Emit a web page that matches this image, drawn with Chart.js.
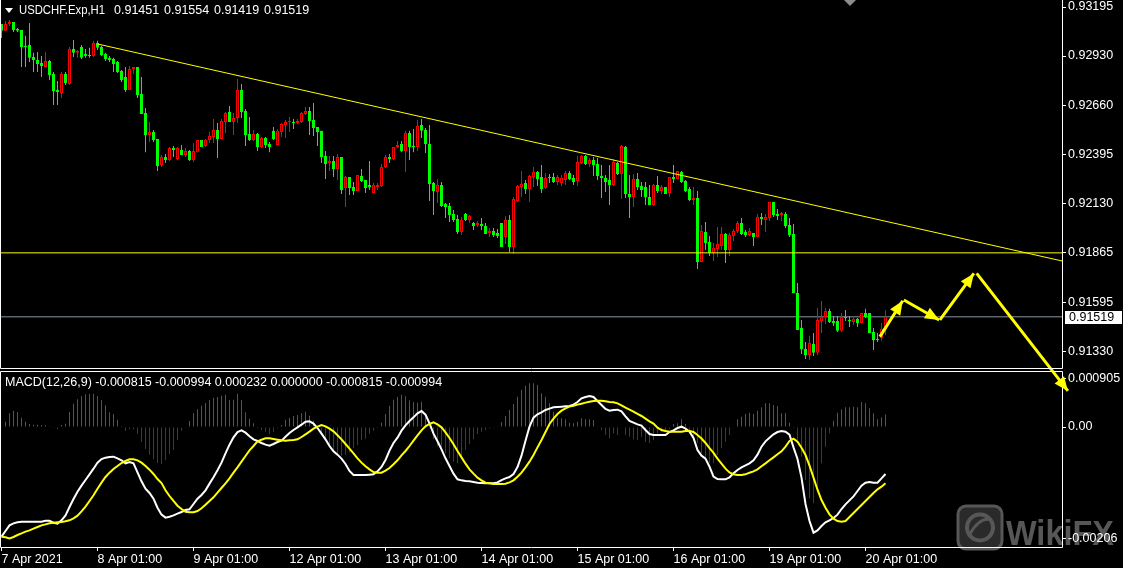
<!DOCTYPE html>
<html>
<head>
<meta charset="utf-8">
<script src="https://cdn.jsdelivr.net/npm/chart.js@4.4.0/dist/chart.umd.min.js"></script>
<style>
  html, body { margin: 0; padding: 0; background: #000; }
</style>
</head>
<body>
<canvas id="grafico" width="1123" height="568"></canvas>
<script>
// USDCHF.Exp H1, 7 Apr 01:00 .. 20 Apr 06:00 (one value per hourly bar)
const opens = [
  .93103, .93066, .93103, .93114, .93076, .93071, .92985, .92990, .92925, .92909,
  .92893, .92871, .92903, .92832, .92746, .92730, .92832, .92778, .92968, .92947,
  .92979, .92941, .92936, .92930, .93001, .92979, .92941, .92920, .92914, .92898,
  .92849, .92816, .92746, .92860, .92871, .92724, .92622, .92503, .92519, .92481,
  .92340, .92384, .92367, .92432, .92373, .92421, .92394, .92416, .92367, .92410,
  .92476, .92443, .92476, .92492, .92530, .92481, .92573, .92627, .92573, .92595,
  .92746, .92633, .92508, .92476, .92508, .92438, .92487, .92454, .92525, .92448,
  .92519, .92557, .92573, .92573, .92568, .92573, .92616, .92633, .92584, .92546,
  .92525, .92389, .92351, .92362, .92319, .92384, .92216, .92275, .92221, .92200,
  .92281, .92259, .92232, .92189, .92221, .92227, .92329, .92384, .92373, .92438,
  .92454, .92416, .92514, .92443, .92438, .92557, .92530, .92454, .92243, .92194,
  .92232, .92129, .92119, .92075, .92048, .91978, .92075, .92043, .92027, .92016,
  .92021, .92010, .91973, .91983, .91973, .92027, .91951, .92043, .91897, .92146,
  .92221, .92243, .92210, .92275, .92302, .92275, .92216, .92275, .92275, .92248,
  .92243, .92259, .92297, .92270, .92254, .92351, .92389, .92346, .92367, .92346,
  .92281, .92270, .92259, .92232, .92351, .92292, .92438, .92183, .92167, .92265,
  .92227, .92221, .92167, .92124, .92232, .92200, .92221, .92189, .92275, .92265,
  .92302, .92254, .92210, .92151, .92162, .91816, .91978, .91924, .91864, .91886,
  .91902, .91967, .91881, .91956, .91983, .92027, .91978, .91962, .91973, .91951,
  .92059, .92043, .92054, .92140, .92075, .92070, .92075, .92016, .91967, .91648,
  .91459, .91345, .91313, .91372, .91324, .91497, .91518, .91551, .91497, .91497,
  .91443, .91518, .91502, .91491, .91508, .91486, .91540, .91540, .91437, .91399,
  .91405, .91451
];
const highs = [
  .93103, .93120, .93125, .93114, .93082, .93071, .93039, .93109, .92947, .92952,
  .92930, .92952, .92909, .92843, .92795, .92843, .92843, .92979, .93017, .92963,
  .92990, .92968, .92974, .93012, .93012, .92985, .92947, .92930, .92920, .92903,
  .92854, .92871, .92876, .92871, .92871, .92816, .92649, .92573, .92530, .92481,
  .92394, .92400, .92438, .92443, .92438, .92448, .92432, .92421, .92459, .92476,
  .92476, .92481, .92519, .92589, .92568, .92589, .92627, .92660, .92622, .92806,
  .92778, .92643, .92600, .92530, .92514, .92492, .92492, .92465, .92546, .92535,
  .92568, .92584, .92600, .92589, .92589, .92627, .92654, .92654, .92676, .92546,
  .92525, .92416, .92389, .92389, .92400, .92384, .92281, .92275, .92248, .92286,
  .92319, .92259, .92362, .92243, .92243, .92346, .92394, .92400, .92438, .92470,
  .92470, .92525, .92525, .92535, .92584, .92589, .92541, .92557, .92248, .92265,
  .92248, .92135, .92135, .92097, .92070, .92059, .92081, .92070, .92032, .92037,
  .92054, .92027, .92000, .92000, .91994, .92027, .92064, .92070, .92167, .92232,
  .92308, .92259, .92286, .92329, .92308, .92340, .92297, .92292, .92297, .92286,
  .92286, .92308, .92308, .92286, .92389, .92394, .92394, .92378, .92384, .92378,
  .92340, .92286, .92340, .92373, .92356, .92448, .92443, .92286, .92292, .92297,
  .92248, .92248, .92232, .92237, .92281, .92232, .92221, .92275, .92340, .92308,
  .92308, .92259, .92221, .92221, .92200, .92016, .92032, .91956, .91918, .92005,
  .92005, .91973, .91973, .91994, .92037, .92054, .91989, .92000, .91973, .92075,
  .92081, .92075, .92140, .92140, .92102, .92086, .92086, .92054, .92021, .91702,
  .91502, .91383, .91416, .91432, .91567, .91605, .91567, .91562, .91524, .91524,
  .91540, .91556, .91524, .91524, .91513, .91540, .91562, .91540, .91459, .91432,
  .91486, .91554
];
const lows = [
  .93028, .93066, .93093, .93060, .93060, .92871, .92871, .92898, .92843, .92843,
  .92816, .92871, .92800, .92665, .92665, .92703, .92773, .92773, .92925, .92920,
  .92914, .92920, .92920, .92925, .92963, .92930, .92903, .92898, .92843, .92838,
  .92789, .92735, .92746, .92832, .92703, .92616, .92410, .92465, .92465, .92308,
  .92329, .92351, .92362, .92384, .92367, .92394, .92384, .92362, .92356, .92410,
  .92438, .92438, .92459, .92459, .92378, .92481, .92514, .92573, .92503, .92568,
  .92595, .92443, .92470, .92470, .92416, .92432, .92432, .92410, .92476, .92448,
  .92492, .92487, .92519, .92535, .92562, .92568, .92611, .92503, .92497, .92443,
  .92351, .92265, .92308, .92275, .92259, .92183, .92113, .92178, .92178, .92200,
  .92248, .92189, .92205, .92189, .92205, .92221, .92324, .92351, .92367, .92432,
  .92410, .92302, .92367, .92410, .92416, .92487, .92405, .92146, .92070, .92135,
  .92113, .92054, .92032, .92032, .91967, .91962, .92037, .92027, .91989, .92005,
  .91989, .91967, .91951, .91951, .91946, .91897, .91913, .91870, .91859, .92140,
  .92167, .92183, .92140, .92221, .92227, .92189, .92210, .92243, .92243, .92232,
  .92227, .92232, .92259, .92232, .92227, .92346, .92340, .92329, .92281, .92259,
  .92162, .92194, .92124, .92227, .92286, .92156, .92162, .92054, .92113, .92205,
  .92167, .92124, .92124, .92119, .92189, .92183, .92183, .92167, .92243, .92265,
  .92243, .92194, .92146, .92124, .91778, .91816, .91881, .91848, .91821, .91843,
  .91881, .91810, .91848, .91929, .91973, .91962, .91951, .91956, .91902, .91951,
  .92016, .91978, .92037, .92059, .92043, .92037, .92000, .91951, .91648, .91448,
  .91318, .91291, .91286, .91307, .91313, .91432, .91480, .91486, .91470, .91437,
  .91437, .91497, .91464, .91475, .91464, .91486, .91513, .91432, .91340, .91383,
  .91389, .91419
];
const closes = [
  .93066, .93103, .93114, .93071, .93066, .92979, .92979, .92920, .92909, .92887,
  .92876, .92903, .92827, .92741, .92735, .92832, .92784, .92968, .92947, .92958,
  .92920, .92930, .92930, .93001, .92974, .92936, .92914, .92909, .92887, .92843,
  .92800, .92746, .92860, .92871, .92719, .92616, .92503, .92519, .92476, .92335,
  .92384, .92367, .92432, .92421, .92432, .92394, .92416, .92367, .92416, .92476,
  .92438, .92476, .92497, .92530, .92481, .92579, .92622, .92573, .92595, .92746,
  .92627, .92503, .92476, .92508, .92438, .92487, .92448, .92438, .92481, .92525,
  .92562, .92573, .92579, .92568, .92579, .92622, .92633, .92579, .92541, .92519,
  .92384, .92346, .92362, .92319, .92384, .92205, .92275, .92216, .92200, .92286,
  .92254, .92216, .92221, .92232, .92232, .92329, .92384, .92373, .92438, .92448,
  .92416, .92514, .92438, .92438, .92552, .92525, .92454, .92237, .92200, .92232,
  .92119, .92113, .92070, .92043, .91978, .92043, .92043, .92064, .92010, .92027,
  .92010, .91967, .91983, .91962, .91956, .91897, .92043, .91897, .92156, .92227,
  .92237, .92210, .92281, .92302, .92265, .92210, .92270, .92270, .92248, .92275,
  .92270, .92297, .92265, .92248, .92356, .92389, .92346, .92367, .92340, .92281,
  .92270, .92248, .92232, .92356, .92292, .92443, .92183, .92167, .92265, .92221,
  .92205, .92167, .92124, .92232, .92200, .92221, .92183, .92275, .92265, .92308,
  .92248, .92200, .92151, .92162, .91816, .91983, .91918, .91864, .91892, .91913,
  .91967, .91881, .91962, .91983, .92027, .91967, .91962, .91983, .91951, .92059,
  .92048, .92059, .92140, .92070, .92064, .92081, .92010, .91962, .91648, .91448,
  .91345, .91313, .91378, .91324, .91502, .91518, .91551, .91491, .91486, .91443,
  .91518, .91513, .91497, .91508, .91486, .91540, .91518, .91432, .91394, .91394,
  .91454, .91519
];

// MACD(12,26,9) sub-window
const macdLine = [
  -0.002031, -0.001926, -0.001821, -0.001784, -0.001765, -0.001753, -0.001753, -0.001753, -0.001753, -0.001753,
  -0.001753, -0.001735, -0.001735, -0.001772, -0.00179, -0.001728, -0.001636, -0.001482, -0.001333, -0.001198,
  -0.001086, -0.000982, -0.000877, -0.000772, -0.00066, -0.000593, -0.000568, -0.000556, -0.000549, -0.00058,
  -0.000617, -0.000673, -0.000648, -0.000673, -0.00084, -0.001006, -0.001142, -0.001222, -0.001327, -0.001494,
  -0.001623, -0.001679, -0.001661, -0.001636, -0.001605, -0.001574, -0.001537, -0.001525, -0.001426, -0.001327,
  -0.001259, -0.001173, -0.001049, -0.000932, -0.000802, -0.00066, -0.000488, -0.000327, -0.000191, -0.000093,
  -0.000062, -0.000105, -0.000173, -0.000228, -0.000259, -0.000296, -0.000327, -0.000346, -0.000315, -0.000278,
  -0.000253, -0.000179, -0.000111, -0.000056, -0.000006, 0.000043, 0.000099, 0.000105, 0.000062, -0.000019,
  -0.000123, -0.000228, -0.000352, -0.000451, -0.000512, -0.000586, -0.000685, -0.000815, -0.000889, -0.000889,
  -0.000889, -0.000889, -0.000883, -0.000877, -0.000821, -0.000741, -0.000611, -0.000438, -0.000296, -0.000198,
  -0.000068, 0.000031, 0.000111, 0.000179, 0.000253, 0.000296, 0.000228, 0.000068, -0.000123, -0.000265,
  -0.000414, -0.00058, -0.000722, -0.000864, -0.000969, -0.000988, -0.001, -0.001006, -0.001019, -0.001031,
  -0.001037, -0.001043, -0.001043, -0.001043, -0.001025, -0.000982, -0.000951, -0.000926, -0.00087, -0.000741,
  -0.000531, -0.000253, 0.000006, 0.000173, 0.000235, 0.000272, 0.000315, 0.00034, 0.000364, 0.00037,
  0.000377, 0.000383, 0.000389, 0.000414, 0.000463, 0.000531, 0.000556, 0.000574, 0.000556, 0.000481,
  0.000407, 0.000333, 0.000302, 0.000315, 0.000321, 0.00029, 0.000198, 0.000111, 0.00008, 0.000049,
  0.000025, -0.000056, -0.00013, -0.000148, -0.000148, -0.000148, -0.000148, -0.000093, -0.000062, -0.000019,
  0.000006, -0.000031, -0.000086, -0.000204, -0.000426, -0.000531, -0.000586, -0.000735, -0.00092, -0.000963,
  -0.000969, -0.000969, -0.000932, -0.000858, -0.000796, -0.000747, -0.00071, -0.000673, -0.000617, -0.000512,
  -0.000364, -0.000265, -0.000198, -0.000136, -0.000093, -0.000074, -0.000086, -0.000142, -0.000377, -0.000593,
  -0.000938, -0.001426, -0.001741, -0.001957, -0.001914, -0.001833, -0.001765, -0.001728, -0.001685, -0.001623,
  -0.001519, -0.001432, -0.001358, -0.001284, -0.001185, -0.001086, -0.001031, -0.001019, -0.001031, -0.001031,
  -0.000951, -0.00087
];
const signalLine = [
  -0.002031, -0.002043, -0.002062, -0.002037, -0.002, -0.001969, -0.001938, -0.001914, -0.001883, -0.001852,
  -0.001821, -0.001803, -0.001784, -0.001772, -0.001765, -0.001759, -0.001747, -0.001728, -0.001691, -0.001642,
  -0.001562, -0.001475, -0.00137, -0.001265, -0.001142, -0.001031, -0.000926, -0.000846, -0.000778, -0.000722,
  -0.000667, -0.00063, -0.000599, -0.000599, -0.000617, -0.00066, -0.000722, -0.00079, -0.00087, -0.000963,
  -0.001037, -0.001173, -0.001278, -0.00137, -0.001457, -0.001519, -0.001568, -0.00158, -0.00158, -0.001556,
  -0.001506, -0.001438, -0.00137, -0.001303, -0.001216, -0.00113, -0.001043, -0.000951, -0.000846, -0.000747,
  -0.000642, -0.000537, -0.000432, -0.000352, -0.000265, -0.000235, -0.00021, -0.00021, -0.000222, -0.000235,
  -0.000247, -0.000253, -0.000247, -0.000241, -0.000228, -0.000185, -0.000136, -0.000086, -0.000031, 0.000006,
  0.000037, 0.000012, -0.000031, -0.00008, -0.000154, -0.000228, -0.000315, -0.000401, -0.000488, -0.00058,
  -0.00066, -0.000728, -0.000784, -0.000833, -0.000846, -0.000846, -0.000809, -0.000759, -0.000691, -0.000617,
  -0.000525, -0.000444, -0.000352, -0.000253, -0.000154, -0.000062, 0.000012, 0.000056, 0.000086, 0.000049,
  -0.000006, -0.000099, -0.000204, -0.000321, -0.000444, -0.000562, -0.000679, -0.000784, -0.000864, -0.000938,
  -0.000988, -0.001031, -0.001043, -0.001056, -0.001056, -0.001056, -0.001049, -0.001025, -0.000988, -0.00092,
  -0.000846, -0.000747, -0.000642, -0.000519, -0.000377, -0.000241, -0.000093, 0.000056, 0.000154, 0.000241,
  0.000302, 0.000346, 0.000377, 0.000395, 0.000414, 0.000432, 0.000451, 0.000469, 0.000481, 0.000488,
  0.000488, 0.000475, 0.000463, 0.000457, 0.000438, 0.000401, 0.000358, 0.000321, 0.000284, 0.000241,
  0.000204, 0.000154, 0.000105, 0.000062, -0.000012, -0.000056, -0.000074, -0.000086, -0.000086, -0.000086,
  -0.000086, -0.000074, -0.000074, -0.000093, -0.000148, -0.000213, -0.000296, -0.000389, -0.000481, -0.000586,
  -0.000679, -0.000772, -0.00084, -0.000877, -0.000889, -0.000889, -0.000877, -0.000846, -0.000821, -0.000784,
  -0.000728, -0.000673, -0.000617, -0.000562, -0.000506, -0.000451, -0.000364, -0.000259, -0.000216, -0.000272,
  -0.000383, -0.000519, -0.000716, -0.000938, -0.001161, -0.001352, -0.001494, -0.001617, -0.001698, -0.001741,
  -0.001753, -0.001741, -0.001667, -0.001593, -0.001519, -0.001444, -0.00137, -0.001296, -0.001222, -0.001154,
  -0.001105, -0.00104
];
const histogram = [
  0.000006, 0.000099, 0.000253, 0.000302, 0.000278, 0.000173, 0.000099, 0.000056, 0.000043, 0.000043,
  0.000037, 0.000031, 0.000012, -0.000012, -0.000037, 0.000037, 0.000062, 0.000278, 0.000432, 0.000512,
  0.000574, 0.000605, 0.000617, 0.000617, 0.000574, 0.0005, 0.000401, 0.000272, 0.000241, 0.000136,
  0.000019, -0.000074, -0.000043, -0.000043, -0.00013, -0.000272, -0.000407, -0.000512, -0.000599, -0.000667,
  -0.000685, -0.000611, -0.000506, -0.000426, -0.000241, -0.000068, -0.000006, 0.000111, 0.000253, 0.000327,
  0.000395, 0.000444, 0.0005, 0.000543, 0.000556, 0.00058, 0.000599, 0.0005, 0.000506, 0.000617,
  0.0005, 0.000272, 0.000154, 0.000068, -0.000025, -0.000056, -0.000086, -0.000136, -0.000093, -0.000025,
  0.000037, 0.000136, 0.000167, 0.000204, 0.000222, 0.000253, 0.000284, 0.00021, 0.000117, -0.000006,
  -0.00013, -0.000253, -0.000358, -0.000451, -0.000506, -0.000531, -0.000512, -0.000469, -0.000389, -0.000333,
  -0.000241, -0.000216, -0.00013, -0.000068, -0.000019, 0.00008, 0.000241, 0.000395, 0.000506, 0.000556,
  0.000599, 0.000568, 0.000494, 0.000463, 0.000451, 0.000469, 0.000247, -0.000025, -0.000228, -0.000358,
  -0.000432, -0.000488, -0.00058, -0.000642, -0.000667, -0.000531, -0.000426, -0.000315, -0.000228, -0.00013,
  -0.000086, -0.000056, -0.000025, -0.000006, 0.000006, 0.000093, 0.000204, 0.000315, 0.000426, 0.000562,
  0.000691, 0.000765, 0.000809, 0.000809, 0.000778, 0.000623, 0.000562, 0.000438, 0.000284, 0.00016,
  0.00016, 0.000142, 0.00008, 0.000068, 0.000099, 0.00016, 0.000142, 0.000142, 0.00013, 0.000006,
  -0.000056, -0.000148, -0.00021, -0.000117, -0.000148, -0.000006, -0.000148, -0.000179, -0.000228, -0.000241,
  -0.000179, -0.000272, -0.000296, -0.000241, -0.000117, -0.000086, -0.000056, -0.000043, 0.000056, 0.000068,
  0.000142, 0.000056, -0.000086, -0.000179, -0.000302, -0.000488, -0.00058, -0.00066, -0.000673, -0.000519,
  -0.000395, -0.000272, -0.000148, -0.000006, 0.000142, 0.000191, 0.000241, 0.000265, 0.000241, 0.000302,
  0.000364, 0.000438, 0.000438, 0.000407, 0.000389, 0.000253, 0.000259, 0.00008, -0.000025, -0.000241,
  -0.000549, -0.000982, -0.001321, -0.001414, -0.001198, -0.000673, -0.000364, -0.000117, 0.000117, 0.000265,
  0.000327, 0.000364, 0.000364, 0.000377, 0.000364, 0.000463, 0.000438, 0.000346, 0.000253, 0.000142,
  0.000179, 0.000232
];
const macdTitleValues = ['-0.000815', '-0.000994', '0.000232', '0.000000', '-0.000815', '-0.000994'];

// axis ticks
const xTickBars = [0, 24, 48, 72, 96, 120, 144, 168, 192, 216];
const xTickLabels = ['7 Apr 2021', '8 Apr 01:00', '9 Apr 01:00', '12 Apr 01:00', '13 Apr 01:00',
  '14 Apr 01:00', '15 Apr 01:00', '16 Apr 01:00', '19 Apr 01:00', '20 Apr 01:00'];
const priceTicks = [0.93195, 0.92930, 0.92660, 0.92395, 0.92130, 0.91865, 0.91595, 0.91330];
const macdTicks = [0.000905, 0, -0.00206];
const macdTickLabels = ['0.000905', '0.00', '-0.00206'];

// drawn objects: trend line (bar index, price), support level, forecast arrows
const trendBars = [24, 266];
const trendPrices = [0.92995, 0.91817];
const supportLevel = 0.91865;
const arrowFromBar = [219.6, 225.6, 234.6, 243.8];
const arrowFromPrice = [0.91412, 0.91610, 0.91502, 0.91754];
const arrowToBar = [225.3, 234.4, 243.1, 266.6];
const arrowToPrice = [0.91606, 0.91502, 0.91754, 0.91118];

// colores
const upColor = '#ff0000';
const downColor = '#00ff00';
const histUp = '#dc143c';
const histDown = '#006400';
const yellow = '#ffff00';
const fontFamily = "'Liberation Sans', Arial, sans-serif";
const tickFont = { family: fontFamily, size: 12.5 };

const bars = opens.map((o, i) => i);
const candleUp = closes.map((c, i) => c > opens[i]);
const lastBar = bars.length - 1;

const arrowData = [];
arrowFromBar.forEach((b, k) => {
  arrowData.push({ x: b, y: arrowFromPrice[k] });
  arrowData.push({ x: arrowToBar[k], y: arrowToPrice[k] });
  arrowData.push({ x: arrowToBar[k], y: null });
});

// texto ajustado a un ancho fijo (el terminal usa una fuente más estrecha)
function fitText(ctx, text, x, y, width) {
  const w = ctx.measureText(text).width;
  ctx.save();
  ctx.translate(x, y);
  ctx.scale(Math.min(1, width / w), 1);
  ctx.fillText(text, 0, 0);
  ctx.restore();
}

function drawWatermark(ctx, a) {
  const x0 = a.right - 104, y0 = a.bottom - 41;
  ctx.save();
  ctx.beginPath();
  ctx.roundRect(x0, y0, 44, 43, 8);
  ctx.fillStyle = '#2a2a2a';
  ctx.fill();
  ctx.lineWidth = 3;
  ctx.strokeStyle = '#575757';
  ctx.stroke();
  ctx.beginPath();
  ctx.arc(x0 + 22, y0 + 21.5, 13, 0, Math.PI * 2);
  ctx.lineWidth = 4;
  ctx.stroke();
  ctx.beginPath();
  ctx.moveTo(x0 + 12, y0 + 28);
  ctx.quadraticCurveTo(x0 + 22, y0 + 10, x0 + 34, y0 + 14);
  ctx.lineWidth = 3;
  ctx.stroke();
  ctx.fillStyle = '#575757';
  ctx.font = "bold 35px " + fontFamily;
  ctx.textBaseline = 'alphabetic';
  fitText(ctx, 'WikiFX', x0 + 48, a.bottom - 2, 108);
  ctx.restore();
}

const overlay = {
  id: 'overlay',
  beforeDraw(chart) {
    const { ctx, chartArea: a } = chart;
    ctx.save();
    ctx.fillStyle = '#000';
    ctx.fillRect(0, 0, chart.width, chart.height);
    ctx.restore();
    drawWatermark(ctx, a);
  },
  afterDraw(chart) {
    const { ctx, chartArea: a } = chart;
    const sy = chart.scales.y, sm = chart.scales.m;
    ctx.save();

    // marcos de las ventanas
    ctx.strokeStyle = '#ffffff';
    ctx.lineWidth = 1;
    const mainBottom = sy.bottom - 1.5, subTop = sm.top + 1.5;
    ctx.beginPath();
    ctx.moveTo(a.left + 0.5, a.top); ctx.lineTo(a.left + 0.5, mainBottom);
    ctx.lineTo(a.right + 0.5, mainBottom); ctx.lineTo(a.right + 0.5, a.top);
    ctx.moveTo(a.left + 0.5, subTop); ctx.lineTo(a.right + 0.5, subTop);
    ctx.lineTo(a.right + 0.5, a.bottom + 0.5); ctx.lineTo(a.left + 0.5, a.bottom + 0.5);
    ctx.closePath();
    ctx.stroke();

    // puntas de flecha
    const meta = chart.getDatasetMeta(chart.data.datasets.findIndex(d => d.label === 'arrows'));
    ctx.fillStyle = yellow;
    for (let k = 0; k < arrowFromBar.length; k++) {
      const p0 = meta.data[k * 3], p1 = meta.data[k * 3 + 1];
      const dx = p1.x - p0.x, dy = p1.y - p0.y, len = Math.hypot(dx, dy);
      const ux = dx / len, uy = dy / len, L = 14, W = 6;
      ctx.beginPath();
      ctx.moveTo(p1.x, p1.y);
      ctx.lineTo(p1.x - L * ux - W * uy, p1.y - L * uy + W * ux);
      ctx.lineTo(p1.x - L * ux + W * uy, p1.y - L * uy - W * ux);
      ctx.closePath();
      ctx.fill();
    }

    // marcador de desplazamiento
    ctx.fillStyle = '#8c8c8c';
    ctx.beginPath();
    ctx.moveTo(a.right - 218, 0); ctx.lineTo(a.right - 206, 0); ctx.lineTo(a.right - 212, 6);
    ctx.closePath();
    ctx.fill();

    // etiqueta del precio actual
    const yb = Math.round(sy.getPixelForValue(closes[lastBar]));
    ctx.fillStyle = '#ffffff';
    ctx.fillRect(a.right + 3, yb - 6, 57, 13);
    ctx.fillStyle = '#000000';
    ctx.font = '12.5px ' + fontFamily;
    ctx.textBaseline = 'middle';
    ctx.fillText(closes[lastBar].toFixed(5), a.right + 7, yb + 0.5);

    // títulos
    ctx.fillStyle = '#ffffff';
    ctx.beginPath();
    ctx.moveTo(a.left + 5, a.top + 8); ctx.lineTo(a.left + 13, a.top + 8); ctx.lineTo(a.left + 9, a.top + 13);
    ctx.closePath();
    ctx.fill();
    const ohlc = [opens[lastBar], highs[lastBar], lows[lastBar], closes[lastBar]];
    fitText(ctx, 'USDCHF.Exp,H1', a.left + 19, a.top + 11, 86);
    ohlc.forEach((v, k) => ctx.fillText(v.toFixed(5), a.left + 114 + k * 50, a.top + 11));
    ctx.fillText('MACD(12,26,9) ' + macdTitleValues.join(' '), a.left + 5, sm.top + 13);
    ctx.restore();
  }
};

const ctx = document.getElementById('grafico').getContext('2d');
const myChart = new Chart(ctx, {
  type: 'bar',
  data: {
    datasets: [
      {
        type: 'line', label: 'bid', yAxisID: 'y',
        data: [{ x: -1, y: closes[lastBar] }, { x: 267, y: closes[lastBar] }],
        borderColor: '#8a94a6', borderWidth: 1, pointRadius: 0, order: 12
      },
      {
        type: 'bar', label: 'hist', yAxisID: 'm',
        data: bars.map(i => ({ x: i, y: histogram[i] })),
        backgroundColor: histogram.map(v => v >= 0 ? histUp : histDown),
        barThickness: 1, grouped: false, borderWidth: 0, inflateAmount: 0, order: 11
      },
      {
        type: 'line', label: 'macd', yAxisID: 'm',
        data: bars.map(i => ({ x: i, y: macdLine[i] })),
        borderColor: '#ffffff', borderWidth: 2, pointRadius: 0, tension: 0, order: 10
      },
      {
        type: 'line', label: 'signal', yAxisID: 'm',
        data: bars.map(i => ({ x: i, y: signalLine[i] })),
        borderColor: yellow, borderWidth: 2, pointRadius: 0, tension: 0, order: 9
      },
      {
        type: 'bar', label: 'wicks', yAxisID: 'y',
        data: bars.map(i => ({ x: i, y: [lows[i], highs[i]] })),
        backgroundColor: candleUp.map(u => u ? upColor : downColor),
        barThickness: 1, grouped: false, borderWidth: 0, inflateAmount: 0, order: 8
      },
      {
        type: 'bar', label: 'bodies', yAxisID: 'y',
        data: bars.map(i => ({ x: i, y: [opens[i], closes[i]] })),
        backgroundColor: candleUp.map(u => u ? '#000000' : downColor),
        borderColor: candleUp.map(u => u ? upColor : downColor),
        borderWidth: 1, borderSkipped: false, barThickness: 3, minBarLength: 1,
        grouped: false, inflateAmount: 0, order: 7
      },
      {
        type: 'line', label: 'support', yAxisID: 'y',
        data: [{ x: -1, y: supportLevel }, { x: 267, y: supportLevel }],
        borderColor: yellow, borderWidth: 1, pointRadius: 0, order: 4
      },
      {
        type: 'line', label: 'trend', yAxisID: 'y',
        data: trendBars.map((b, k) => ({ x: b, y: trendPrices[k] })),
        borderColor: yellow, borderWidth: 1, pointRadius: 0, order: 3
      },
      {
        type: 'line', label: 'arrows', yAxisID: 'y',
        data: arrowData, spanGaps: false, clip: false,
        borderColor: yellow, borderWidth: 3, pointRadius: 0, order: 1
      }
    ]
  },
  options: {
    responsive: false,
    animation: false,
    events: [],
    layout: { padding: 0 },
    plugins: { legend: { display: false }, tooltip: { enabled: false } },
    scales: {
      x: {
        type: 'linear', axis: 'x', position: 'bottom', min: -0.375, max: 265.125, offset: false,
        afterBuildTicks: s => { s.ticks = xTickBars.map(v => ({ value: v })); },
        afterFit: s => { s.height = 21; s.paddingLeft = 0; s.paddingRight = 0; },
        ticks: {
          color: '#ffffff', font: tickFont, align: 'start', maxRotation: 0, autoSkip: false, padding: 1,
          callback: (v, i) => xTickLabels[i]
        },
        grid: { display: true, drawOnChartArea: false, drawTicks: true, tickLength: 4, color: '#ffffff', offset: false },
        border: { display: false }
      },
      y: {
        type: 'linear', axis: 'y', position: 'right', stack: 'panes', stackWeight: 370,
        min: 0.912313, max: 0.93233,
        afterBuildTicks: s => { s.ticks = priceTicks.map(v => ({ value: v })); },
        afterFit: s => { s.width = 61; s.paddingTop = 0; s.paddingBottom = 0; },
        ticks: { color: '#ffffff', font: tickFont, padding: 2, autoSkip: false, callback: (v, i) => priceTicks[i].toFixed(5) },
        grid: { display: true, drawOnChartArea: false, drawTicks: true, tickLength: 4, color: '#ffffff' },
        border: { display: false }
      },
      m: {
        type: 'linear', axis: 'y', position: 'right', stack: 'panes', stackWeight: 177,
        min: -0.0022222, max: 0.0010556,
        afterBuildTicks: s => { s.ticks = macdTicks.map(v => ({ value: v })); },
        afterFit: s => { s.width = 61; s.paddingTop = 0; s.paddingBottom = 0; },
        ticks: { color: '#ffffff', font: tickFont, padding: 2, autoSkip: false, callback: (v, i) => macdTickLabels[i] },
        grid: { display: true, drawOnChartArea: false, drawTicks: true, tickLength: 4, color: '#ffffff' },
        border: { display: false }
      }
    }
  },
  plugins: [overlay]
});
</script>
</body>
</html>
